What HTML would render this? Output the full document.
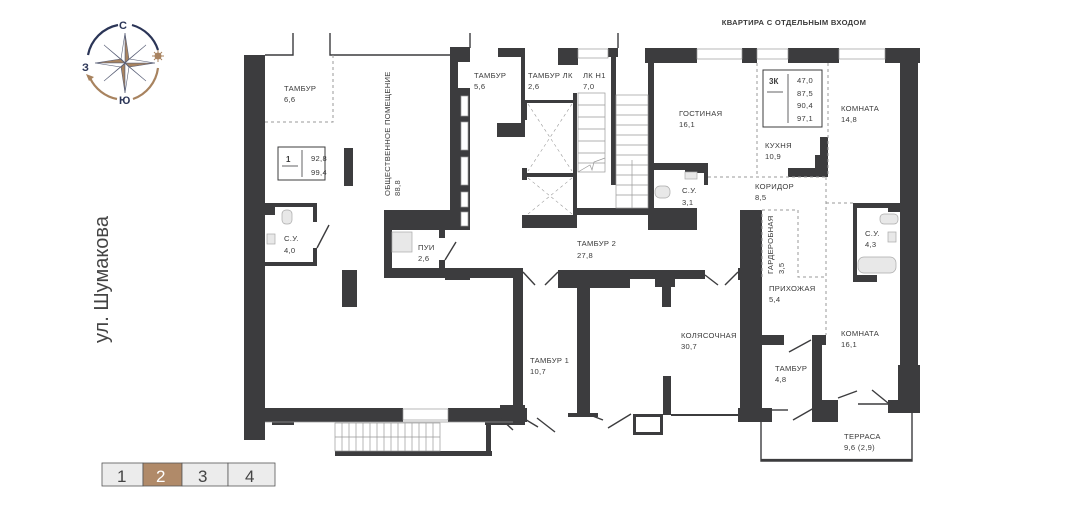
<!DOCTYPE html>
<html><head><meta charset="utf-8"><style>
html,body{margin:0;padding:0;background:#fff;}
svg{display:block;}
text{font-family:"Liberation Sans",sans-serif;fill:#3a3a3a;}
.l{font-size:7.6px;letter-spacing:0.3px;}
</style></head><body>
<svg width="1080" height="509" viewBox="0 0 1080 509" xmlns="http://www.w3.org/2000/svg">
<rect width="1080" height="509" fill="#fff"/>
<!-- compass -->
<g>
<path d="M118,25 A38,38 0 0 0 88,55" fill="none" stroke="#2b3557" stroke-width="2.2"/>
<path d="M132,25 A38,38 0 0 1 158,50" fill="none" stroke="#2b3557" stroke-width="2.2"/>
<path d="M158,68 A38,38 0 0 1 133,99" fill="none" stroke="#a8835f" stroke-width="2.2"/>
<path d="M117,99 A38,38 0 0 1 90,78" fill="none" stroke="#a8835f" stroke-width="2.2"/>
<polygon points="86,74 94,77 89,81" fill="#a8835f"/>
<circle cx="158" cy="56" r="3.5" fill="#a8835f"/>
<g stroke="#a8835f" stroke-width="1"><line x1="152" y1="56" x2="164" y2="56"/><line x1="158" y1="50" x2="158" y2="62"/><line x1="154" y1="52" x2="162" y2="60"/><line x1="162" y1="52" x2="154" y2="60"/></g>
<g stroke="#5a6078" stroke-width="0.6">
<polygon points="125,33 129,59 125,63" fill="#a8835f"/><polygon points="125,33 121,59 125,63" fill="#fff"/>
<polygon points="125,93 121,67 125,63" fill="#a8835f"/><polygon points="125,93 129,67 125,63" fill="#fff"/>
<polygon points="95,63 121,59 125,63" fill="#a8835f"/><polygon points="95,63 121,67 125,63" fill="#fff"/>
<polygon points="155,63 129,67 125,63" fill="#a8835f"/><polygon points="155,63 129,59 125,63" fill="#fff"/>
<polygon points="104,45 122,60 125,63" fill="#fff"/><polygon points="146,45 128,60 125,63" fill="#a8835f"/>
<polygon points="104,81 122,66 125,63" fill="#a8835f"/><polygon points="146,81 128,66 125,63" fill="#fff"/>
</g>
<text x="119" y="29" style="font-size:11px;font-weight:bold;fill:#2b3557">С</text>
<text x="82" y="71" style="font-size:11px;font-weight:bold;fill:#2b3557">З</text>
<text x="119" y="104" style="font-size:11px;font-weight:bold;fill:#2b3557">Ю</text>
</g>
<text transform="translate(108,343) rotate(-90)" style="font-size:20px;fill:#444">ул. Шумакова</text>
<text x="794" y="25" text-anchor="middle" style="font-size:7.6px;font-weight:bold;letter-spacing:0.3px">КВАРТИРА С ОТДЕЛЬНЫМ ВХОДОМ</text>

<!-- floor selector -->
<g stroke="#555" stroke-width="0.8">
<rect x="102" y="463" width="41" height="23" fill="#ececec"/>
<rect x="143" y="463" width="39" height="23" fill="#b08a69"/>
<rect x="182" y="463" width="46" height="23" fill="#ececec"/>
<rect x="228" y="463" width="47" height="23" fill="#ececec"/>
</g>
<text x="117" y="482" style="font-size:17px;fill:#444">1</text>
<text x="156" y="482" style="font-size:17px;fill:#fff">2</text>
<text x="198" y="482" style="font-size:17px;fill:#444">3</text>
<text x="245" y="482" style="font-size:17px;fill:#444">4</text>

<g fill="#3c3c3e">
<!-- left building -->
<rect x="244" y="55" width="21" height="385"/>
<rect x="265" y="408" width="138" height="14"/>
<rect x="448" y="408" width="79" height="14"/>
<rect x="272" y="420" width="22" height="5"/>
<rect x="485" y="420" width="40" height="5"/>
<rect x="513" y="268" width="10" height="150"/>
<rect x="384" y="268" width="139" height="10"/>
<rect x="445" y="277" width="25" height="3"/>
<rect x="384" y="210" width="84" height="20"/>
<rect x="384" y="230" width="8" height="45"/>
<rect x="439" y="230" width="6" height="8"/>
<rect x="439" y="260" width="6" height="9"/>
<rect x="450" y="47" width="8" height="183"/>
<rect x="458" y="88" width="12" height="142"/>
<rect x="450" y="47" width="20" height="15"/>
<rect x="342" y="270" width="15" height="37"/>
<rect x="344" y="148" width="9" height="38"/>
<!-- SU 4.0 -->
<rect x="265" y="203" width="52" height="4"/>
<rect x="313" y="203" width="4" height="19"/>
<rect x="265" y="262" width="52" height="4"/>
<rect x="313" y="248" width="4" height="18"/>
<rect x="265" y="207" width="10" height="8"/>
<!-- stairs bottom -->
<rect x="335" y="451" width="157" height="5"/>
<rect x="486" y="422" width="5" height="34"/>
<!-- middle core -->
<rect x="521" y="48" width="4" height="89"/>
<rect x="497" y="123" width="26" height="14"/>
<rect x="498" y="48" width="24" height="9"/>
<rect x="522" y="100" width="5" height="20"/>
<rect x="522" y="168" width="5" height="12"/>
<rect x="522" y="215" width="55" height="13"/>
<rect x="522" y="173" width="55" height="4"/>
<rect x="573" y="93" width="4" height="135"/>
<rect x="527" y="100" width="46" height="3"/>
<rect x="558" y="48" width="20" height="17"/>
<rect x="608" y="48" width="10" height="9"/>
<rect x="611" y="48" width="5" height="137"/>
<rect x="577" y="208" width="76" height="7"/>
<rect x="648" y="208" width="49" height="22"/>
<!-- tambur 2 bottom / kolyasochnaya -->
<rect x="440" y="268" width="83" height="10"/>
<rect x="500" y="405" width="25" height="17"/>
<rect x="558" y="270" width="72" height="18"/>
<rect x="620" y="270" width="85" height="9"/>
<rect x="655" y="279" width="20" height="8"/>
<rect x="662" y="287" width="9" height="20"/>
<rect x="577" y="288" width="13" height="127"/>
<rect x="568" y="413" width="30" height="4"/>
<rect x="663" y="376" width="8" height="39"/>
<rect x="671" y="414" width="70" height="2"/>
<rect x="633" y="414" width="30" height="3"/>
<rect x="633" y="414" width="3" height="21"/>
<rect x="660" y="414" width="3" height="21"/>
<rect x="633" y="432" width="30" height="3"/>
<rect x="738" y="408" width="34" height="14"/>
<rect x="740" y="210" width="22" height="200"/>
<rect x="738" y="268" width="22" height="12"/>
<!-- apartment -->
<rect x="645" y="48" width="52" height="15"/>
<rect x="742" y="48" width="15" height="15"/>
<rect x="788" y="48" width="51" height="15"/>
<rect x="885" y="48" width="35" height="15"/>
<rect x="900" y="48" width="18" height="320"/>
<rect x="898" y="365" width="22" height="48"/>
<rect x="888" y="400" width="32" height="13"/>
<rect x="648" y="63" width="6" height="147"/>
<rect x="653" y="163" width="55" height="7"/>
<rect x="685" y="163" width="23" height="10"/>
<rect x="704" y="163" width="4" height="22"/>
<rect x="820" y="137" width="8" height="40"/>
<rect x="815" y="155" width="13" height="22"/>
<rect x="788" y="168" width="40" height="9"/>
<rect x="853" y="203" width="4" height="79"/>
<rect x="853" y="203" width="40" height="5"/>
<rect x="888" y="203" width="12" height="9"/>
<rect x="853" y="275" width="24" height="7"/>
<rect x="762" y="335" width="22" height="10"/>
<rect x="812" y="335" width="14" height="10"/>
<rect x="812" y="335" width="10" height="87"/>
<rect x="813" y="400" width="25" height="22"/>
</g>
<!-- windows -->
<g fill="#fff" stroke="#9a9a9a" stroke-width="0.7">
<rect x="697" y="49" width="45" height="10"/>
<rect x="757" y="49" width="31" height="10"/>
<rect x="839" y="49" width="46" height="10"/>
<rect x="578" y="49" width="30" height="9"/>
<rect x="403" y="409" width="45" height="11"/>
<rect x="461" y="96" width="7" height="20"/>
<rect x="461" y="122" width="7" height="28"/>
<rect x="461" y="157" width="7" height="28"/>
<rect x="461" y="192" width="7" height="15"/>
<rect x="461" y="212" width="7" height="14"/>
</g>
<!-- thin lines -->
<g stroke="#3c3c3e" stroke-width="1.4" fill="none">
<path d="M265,55 H293 V33"/>
<path d="M330,33 V55 H450"/>
<path d="M470,48 V33"/>
<path d="M618,48 V33"/>
<path d="M761,413 V461 H912 V413"/>
<path d="M772,410 H788"/>
<path d="M858,404 H888"/>
<path d="M317,248 L329,225"/>
<path d="M445,260 L456,242"/>
<path d="M523,272 L535,285"/>
<path d="M545,285 L558,272"/>
<path d="M705,275 L718,285"/>
<path d="M725,285 L738,272"/>
<path d="M500,418 L513,430"/>
<path d="M537,418 L555,432"/>
<path d="M590,415 L603,420"/>
<path d="M608,428 L631,414"/>
<path d="M789,352 L811,340"/>
<path d="M793,420 L814,408"/>
<path d="M838,398 L857,391"/>
<path d="M872,390 L888,403"/>
<path d="M523,418 L538,427"/>
</g>
<g stroke="#3c3c3e" stroke-width="2.2"><line x1="761" y1="460" x2="912" y2="460"/></g>
<!-- stairs -->
<g stroke="#999" stroke-width="0.7" fill="none">
<rect x="578" y="93" width="27" height="79"/>
<path d="M578,105H605M578,117H605M578,129H605M578,141H605M578,153H605M578,163H605"/>
<rect x="616" y="95" width="32" height="113"/>
<path d="M616,105H648M616,115H648M616,125H648M616,135H648M616,145H648M616,155H648M616,165H648M616,175H648M616,185H648M616,195H648"/>
<path d="M632,160V208"/>
<path d="M578,172 L590,165 L592,170 L594,162 L605,158"/>
<rect x="335" y="423" width="105" height="28"/>
<path d="M335,437H440M342,423V451M349,423V451M356,423V451M363,423V451M370,423V451M377,423V451M384,423V451M391,423V451M398,423V451M405,423V451M412,423V451M419,423V451M426,423V451M433,423V451"/>
<path d="M265,422H513"/>
</g>
<!-- elevator crosses -->
<g stroke="#999" stroke-width="0.6" stroke-dasharray="3,3">
<path d="M528,104 L572,171 M572,104 L528,171"/>
<path d="M528,178 L572,214 M572,178 L528,214"/>
</g>
<!-- dashed -->
<g stroke="#999" stroke-width="1" stroke-dasharray="3,3" fill="none">
<path d="M333,55 V122 H265"/>
<path d="M757,63 V177"/>
<path d="M828,63 V177"/>
<path d="M708,177 H828"/>
<path d="M826,177 V335"/>
<path d="M826,203 H853"/>
<path d="M762,210 H798 V277 H826"/>
<path d="M762,277 V210"/>
</g>
<!-- fixtures -->
<g fill="#e8e8e8" stroke="#aaa" stroke-width="0.7">
<rect x="282" y="210" width="10" height="14" rx="4"/>
<rect x="267" y="234" width="8" height="10"/>
<rect x="392" y="232" width="20" height="20"/>
<rect x="685" y="172" width="12" height="7"/>
<rect x="655" y="186" width="15" height="12" rx="5"/>
<rect x="880" y="214" width="18" height="10" rx="4"/>
<rect x="888" y="232" width="8" height="10"/>
<rect x="858" y="257" width="38" height="16" rx="6"/>
</g>
<!-- info boxes -->
<rect x="278" y="147" width="47" height="33" fill="#fff" stroke="#3c3c3e" stroke-width="1"/>
<line x1="302" y1="150" x2="302" y2="177" stroke="#3c3c3e" stroke-width="0.8"/>
<line x1="282" y1="166" x2="298" y2="166" stroke="#3c3c3e" stroke-width="0.8"/>
<text x="286" y="162" style="font-size:8px;font-weight:bold">1</text>
<text x="311" y="161" class="l">92,8</text>
<text x="311" y="175" class="l">99,4</text>
<rect x="763" y="70" width="59" height="57" fill="#fff" stroke="#3c3c3e" stroke-width="1"/>
<line x1="788" y1="74" x2="788" y2="123" stroke="#3c3c3e" stroke-width="0.8"/>
<line x1="767" y1="92" x2="783" y2="92" stroke="#3c3c3e" stroke-width="0.8"/>
<text x="769" y="84" style="font-size:8px;font-weight:bold">3К</text>
<text x="797" y="83" class="l">47,0</text>
<text x="797" y="96" class="l">87,5</text>
<text x="797" y="108" class="l">90,4</text>
<text x="797" y="121" class="l">97,1</text>
<!-- labels -->
<g class="l">
<text x="284" y="91" class="l">ТАМБУР</text><text x="284" y="102" class="l">6,6</text>
<text transform="translate(390,196) rotate(-90)" class="l">ОБЩЕСТВЕННОЕ ПОМЕЩЕНИЕ</text>
<text transform="translate(400,196) rotate(-90)" class="l">88,8</text>
<text x="284" y="241" class="l">С.У.</text><text x="284" y="253" class="l">4,0</text>
<text x="418" y="250" class="l">ПУИ</text><text x="418" y="261" class="l">2,6</text>
<text x="474" y="78" class="l">ТАМБУР</text><text x="474" y="89" class="l">5,6</text>
<text x="528" y="78" class="l">ТАМБУР ЛК</text><text x="528" y="89" class="l">2,6</text>
<text x="583" y="78" class="l">ЛК Н1</text><text x="583" y="89" class="l">7,0</text>
<text x="577" y="246" class="l">ТАМБУР 2</text><text x="577" y="258" class="l">27,8</text>
<text x="530" y="363" class="l">ТАМБУР 1</text><text x="530" y="374" class="l">10,7</text>
<text x="681" y="338" class="l">КОЛЯСОЧНАЯ</text><text x="681" y="349" class="l">30,7</text>
<text x="679" y="116" class="l">ГОСТИНАЯ</text><text x="679" y="127" class="l">16,1</text>
<text x="765" y="148" class="l">КУХНЯ</text><text x="765" y="159" class="l">10,9</text>
<text x="841" y="111" class="l">КОМНАТА</text><text x="841" y="122" class="l">14,8</text>
<text x="682" y="193" class="l">С.У.</text><text x="682" y="205" class="l">3,1</text>
<text x="755" y="189" class="l">КОРИДОР</text><text x="755" y="200" class="l">8,5</text>
<text transform="translate(773,274) rotate(-90)" class="l">ГАРДЕРОБНАЯ</text>
<text transform="translate(784,274) rotate(-90)" class="l">3,5</text>
<text x="865" y="236" class="l">С.У.</text><text x="865" y="247" class="l">4,3</text>
<text x="769" y="291" class="l">ПРИХОЖАЯ</text><text x="769" y="302" class="l">5,4</text>
<text x="841" y="336" class="l">КОМНАТА</text><text x="841" y="347" class="l">16,1</text>
<text x="775" y="371" class="l">ТАМБУР</text><text x="775" y="382" class="l">4,8</text>
<text x="844" y="439" class="l">ТЕРРАСА</text><text x="844" y="450" class="l">9,6 (2,9)</text>
</g>
</svg>
</body></html>
